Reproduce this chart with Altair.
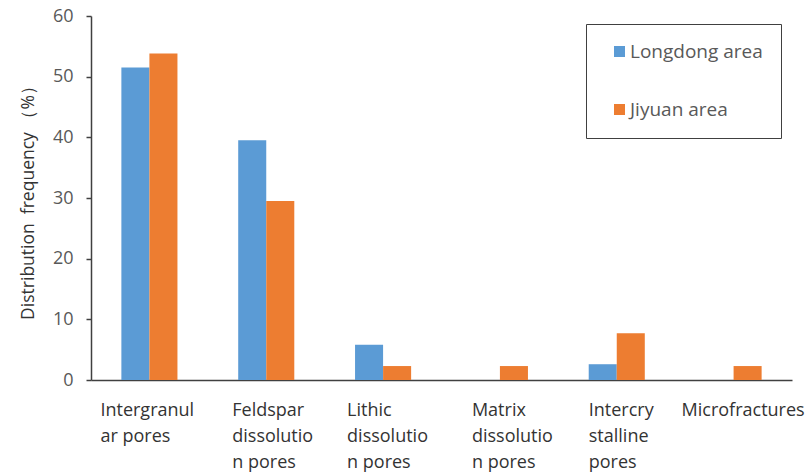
import altair as alt
import pandas as pd

categories = ["Intergranul|ar pores", "Feldspar|dissolutio|n pores", "Lithic|dissolutio|n pores",
              "Matrix|dissolutio|n pores", "Intercry|stalline|pores", "Microfractures"]
label_shift = [-49, -34, -36, -28, -28, -52]
series = ["Longdong area", "Jiyuan area"]
longdong = [51.5, 39.5, 5.8, 0.0, 2.6, 0.0]
jiyuan = [53.8, 29.5, 2.3, 2.3, 7.7, 2.3]
colors = ["#5B9BD5", "#ED7D31"]

rows = []
for c, a, b in zip(categories, longdong, jiyuan):
    rows.append({"cat": c, "series": series[0], "value": a})
    rows.append({"cat": c, "series": series[1], "value": b})
df = pd.DataFrame(rows)

font = "Open Sans"

offset_cond = {
    "condition": [{"test": f"datum.value === '{c}'", "value": s} for c, s in zip(categories, label_shift)],
    "value": 0,
}

chart = alt.Chart(df).mark_bar().encode(
    x=alt.X("cat:N", sort=categories,
            scale=alt.Scale(paddingInner=0.52, paddingOuter=0.26),
            axis=alt.Axis(title=None, labelAngle=0, labelExpr="split(datum.label, '|')",
                          labelAlign="left", labelBaseline="top", labelPadding=21,
                          labelOffset=offset_cond,
                          labelLineHeight=26, labelFontSize=18, labelColor="#333333",
                          labelFont=font, ticks=False, domainColor="#404040",
                          domainWidth=1.5, labelLimit=200)),
    xOffset=alt.XOffset("series:N", sort=series),
    y=alt.Y("value:Q", scale=alt.Scale(domain=[0, 60]),
            axis=alt.Axis(title="Distribution\u00a0\u00a0frequency\u00a0（%）", values=[0, 10, 20, 30, 40, 50, 60],
                          grid=False, tickSize=5, tickColor="#404040", tickWidth=1.5,
                          domainColor="#404040", domainWidth=1.5,
                          labelFontSize=18, labelColor="#595959", labelFont=font,
                          labelPadding=13, titleFont=font, titleFontSize=17.5,
                          titleFontWeight="normal", titleColor="#333333", titlePadding=15)),
    color=alt.Color("series:N", sort=series,
                    scale=alt.Scale(domain=series, range=colors),
                    legend=alt.Legend(title=None, orient="none", legendX=495, legendY=8,
                                      symbolType="square", symbolSize=121,
                                      symbolStrokeWidth=0, labelFontSize=19,
                                      labelFont=font, labelColor="#595959",
                                      rowPadding=38, padding=18, labelOffset=1,
                                      symbolOffset=6,
                                      strokeColor="#404040",
                                      fillColor="white")),
).properties(
    width=701, height=364,
    autosize=alt.AutoSizeParams(type="none"),
    padding={"left": 91, "top": 16, "right": 14, "bottom": 95},
).configure_view(stroke=None)

chart.save("out.html", embed_options={"renderer": "svg", "actions": False})
